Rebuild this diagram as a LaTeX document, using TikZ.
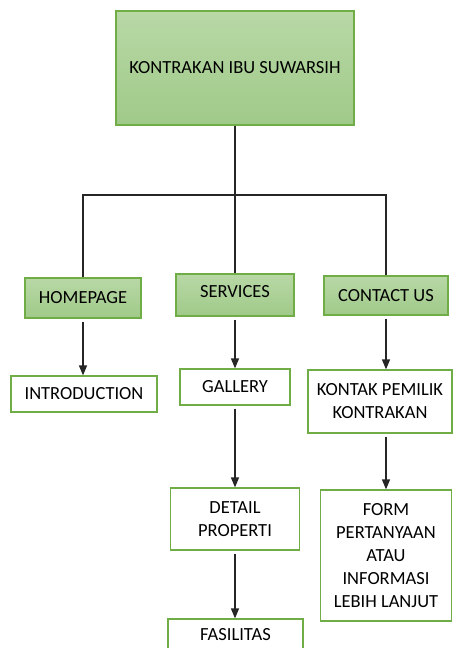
\documentclass[tikz,border=0pt]{standalone}
\usepackage{fontspec}
\setmainfont{Carlito}
\usetikzlibrary{arrows.meta}
\definecolor{boxline}{RGB}{112,173,71}
\definecolor{greentop}{RGB}{184,216,166}
\definecolor{greenbot}{RGB}{160,202,137}
\tikzset{
    mainbox/.style={draw=boxline,line width=1.2pt,top color=greentop,bottom color=greenbot,
        align=center,inner sep=0pt,font=\fontsize{18.5}{23}\selectfont},
    subbox/.style={draw=boxline,line width=1.2pt,fill=white,
        align=center,inner sep=0pt,font=\fontsize{18.5}{23}\selectfont},
    link/.style={line width=1.3pt,black!85},
    arr/.style={link,-{Triangle[length=10pt,width=8pt]},shorten <=3pt}
}

\begin{document}
\begin{tikzpicture}[x=1pt,y=-1pt]
    \useasboundingbox (0,0) rectangle (454,648);
    \clip (0,0) rectangle (454,648);
    \node[mainbox,minimum width=238pt,minimum height=114pt] (top) at (235,68) {KONTRAKAN IBU SUWARSIH};
    \node[mainbox,minimum width=116pt,minimum height=40pt] (home) at (83,298) {HOMEPAGE};
    \node[mainbox,minimum width=118pt,minimum height=42pt,text depth=8pt] (serv) at (235,295) {SERVICES};
    \node[mainbox,minimum width=124pt,minimum height=39pt] (contact) at (386,295.5) {CONTACT US};
    \node[subbox,minimum width=146pt,minimum height=36pt] (intro) at (84,394) {INTRODUCTION};
    \node[subbox,minimum width=110pt,minimum height=36pt] (gallery) at (235,387) {GALLERY};
    \node[subbox,minimum width=144pt,minimum height=63pt] (kontak) at (380,401.5) {KONTAK PEMILIK\\KONTRAKAN};
    \node[subbox,minimum width=129pt,minimum height=62pt] (detail) at (235,519) {DETAIL\\PROPERTI};
    \node[subbox,minimum width=131pt,minimum height=131pt] (form) at (386,555.5) {FORM\\PERTANYAAN\\ATAU\\INFORMASI\\LEBIH LANJUT};
    \node[subbox,minimum width=135pt,minimum height=60pt,text depth=30pt] (fasil) at (235.5,649) {FASILITAS};
    \coordinate (bus) at (235,195);
    \draw[link] (top) -- (bus);
    \draw[link] (home.north) |- (bus) -| (contact.north);
    \draw[link] (bus) -- (serv.north);
    \draw[arr] (home.south) -- (home.south |- intro.north);
    \draw[arr] (serv.south) -- (gallery.north);
    \draw[arr] (contact.south) -- (contact.south |- kontak.north);
    \draw[arr] (gallery.south) -- (detail.north);
    \draw[arr] (form.north |- kontak.south) -- (form.north);
    \draw[arr] (detail.south) -- (detail.south |- fasil.north);
\end{tikzpicture}
\end{document}
